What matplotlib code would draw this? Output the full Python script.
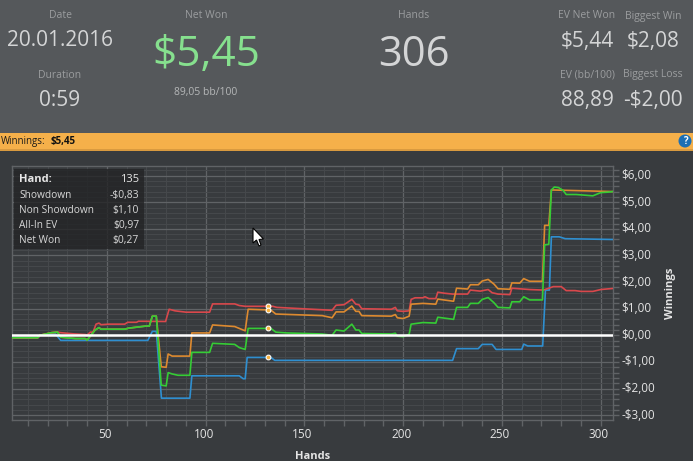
import matplotlib
matplotlib.use('Agg')
import matplotlib.pyplot as plt
from matplotlib.patches import Rectangle, Circle, Polygon
from matplotlib.ticker import MultipleLocator, FuncFormatter
from matplotlib.transforms import ScaledTranslation

# ==========================================
# DATA
# ==========================================
blue_x = [2, 15, 16, 24, 26.6, 70.7, 73, 75, 77.6, 92, 93, 117, 119, 120, 121, 133, 135, 225, 227,
          238, 240, 245, 247, 260, 261, 263, 270.6, 272, 274, 275, 279, 282, 306]
blue_y = [-0.09, -0.09, 0, 0.05, -0.19, -0.19, 0.15, 0.15, -2.36, -2.36, -1.52, -1.52, -1.63, -1.63, -0.83,
          -0.83, -0.94, -0.94, -0.5, -0.5, -0.34, -0.34, -0.53, -0.53, -0.33, -0.4, -0.4, 1.7, 1.7,
          3.7, 3.7, 3.63, 3.6]

green_x = [2, 15, 16, 22, 25, 26.6, 34, 39, 40, 41.6, 44, 46, 47, 59, 61, 70, 71.5, 73, 75, 77.5, 80, 81, 83, 86, 92,
           93, 102, 103.5, 114.7, 117, 120, 121.5, 133, 135.5, 141, 159, 164, 166, 170, 174, 176, 177.6,
           179, 194, 196, 197, 200, 203, 204, 210, 216.5, 217.5, 225.5, 227, 232.6, 234, 238, 240, 243,
           246, 248, 254, 255, 259, 261, 264, 270.5, 271.6, 273.7, 275, 276.5, 278.6, 281, 282.5, 287.5,
           296, 300, 304, 306]
green_y = [-0.09, -0.09, 0, 0.1, 0.12, -0.07, -0.12, -0.12, -0.18, -0.03, 0.2, 0.29, 0.23, 0.23, 0.27, 0.35, 0.35, 0.72,
           0.72, -1.87, -1.9, -1.4, -1.45, -1.5, -1.5, -0.64, -0.64, -0.3, -0.34, -0.46, -0.53, 0.26, 0.26,
           0.12, 0.09, 0.05, 0, 0.2, 0.16, 0.42, 0.2, 0.2, 0.07, 0.05, 0.08, -0.03, -0.05, 0.04, 0.42,
           0.48, 0.46, 0.68, 0.6, 1.05, 1.05, 1.2, 1.2, 1.35, 1.42, 1.22, 1.05, 1.03, 1.26, 1.26, 1.45,
           1.33, 1.33, 3.4, 3.42, 5.46, 5.57, 5.55, 5.44, 5.29, 5.29, 5.24, 5.36, 5.38, 5.4]

orange_x = [2, 15, 16, 22, 25, 26.6, 34, 39, 40, 41.6, 44, 46, 47, 59, 61, 70, 71.5, 73, 75, 77.5, 80, 81, 83, 92,
            93, 102, 103.5, 114.7, 117, 120, 121.5, 133, 135.5, 159, 164, 166, 170, 174, 176, 177.6,
            179, 194, 196, 197, 200, 203, 204, 210, 216.5, 217.5, 225.5, 227, 232.6, 234, 238, 240, 243,
            246, 248, 254, 255, 259, 261, 264, 270.5, 271.6, 273.7, 275, 306]
orange_y = [-0.09, -0.09, 0, 0.1, 0.12, -0.07, -0.12, -0.12, -0.18, -0.03, 0.2, 0.29, 0.23, 0.23, 0.27, 0.35, 0.35, 0.72,
            0.72, -1.18, -1.2, -0.7, -0.78, -0.78, 0.09, 0.09, 0.39, 0.33, 0.26, 0.17, 0.98, 0.95,
            0.8, 0.74, 0.66, 0.88, 0.88, 1.1, 0.9, 0.9, 0.74, 0.72, 0.78, 0.66, 0.63, 0.72, 1.17,
            1.2, 1.17, 1.36, 1.28, 1.77, 1.74, 1.9, 1.9, 2.04, 2.1, 1.92, 1.75, 1.73, 1.97, 1.96, 2.13,
            2.03, 2.03, 4.13, 4.13, 5.46, 5.4]

red_x = [2, 15, 16, 22, 25, 26.6, 34, 39, 40, 41.6, 43, 44.5, 46, 47, 51, 59, 60.5, 65, 66, 79.7, 81.5, 84.5, 90, 102,
         103.5, 114.7, 117, 120, 134, 136, 159, 164, 166, 170, 174, 176, 177.6, 179, 194, 196, 197, 200,
         203, 204, 206, 210, 211, 213, 216.5, 217.5, 221, 225, 232.6, 234, 239, 243, 245, 248, 254, 255,
         264, 271, 276, 280, 282.5, 287, 290, 296, 300, 306]
red_y = [-0.09, -0.09, 0, 0.1, 0.12, 0.1, 0.05, 0.03, 0.01, 0.12, 0.12, 0.42, 0.46, 0.4, 0.42, 0.42, 0.49, 0.49, 0.53,
         0.52, 0.98, 0.92, 0.87, 0.87, 1.18, 1.18, 1.12, 1.09, 1.09, 1.05, 0.96, 0.94, 1.13, 1.15, 1.35,
         1.17, 1.15, 1.0, 0.98, 1.05, 0.92, 0.9, 0.92, 1.35, 1.41, 1.41, 1.45, 1.38, 1.38, 1.62, 1.58,
         1.55, 1.55, 1.7, 1.66, 1.72, 1.6, 1.55, 1.53, 1.77, 1.72, 1.7, 1.83, 1.83, 1.68, 1.68, 1.65,
         1.65, 1.72, 1.76]

hover_hand = 131.5
hover_vals = [-0.83, 1.10, 0.97, 0.27]

tooltip_names = ['Showdown', 'Non Showdown', 'All-In EV', 'Net Won']
tooltip_vals = ['-$0,83', '$1,10', '$0,97', '$0,27']

# ==========================================
# COLORS
# ==========================================
BG = '#383b3e'
HEADER = '#55585b'
BAR = '#f5b04a'
LABEL = '#9b9d9f'
VALUE = '#d4d5d6'
PX_W, PX_H = 693, 461

plt.rcParams['font.family'] = ['Open Sans', 'DejaVu Sans']
fig = plt.figure(figsize=(PX_W / 100, PX_H / 100), dpi=100, facecolor=BG)

# fondo en coordenadas de pixel
bg = fig.add_axes([0, 0, 1, 1], zorder=0)
bg.set_xlim(0, PX_W)
bg.set_ylim(PX_H, 0)
bg.axis('off')
bg.add_patch(Rectangle((0, 0), PX_W, 133, color=HEADER, lw=0))
bg.add_patch(Rectangle((0, 133), PX_W, 18, color=BAR, lw=0))
bg.add_patch(Rectangle((0, 149), PX_W, 2, color='#d99a3f', lw=0))
bg.add_patch(Circle((685, 141), 6.5, color='#1c6fb5', lw=0))
bg.text(685, 141.5, '?', color='white', fontsize=7, fontweight='bold', ha='center', va='center')


def stat(x, y, text, size, color):
    bg.text(x, y, text, fontsize=size, color=color, ha='center', va='center')


stat(60, 16, 'Date', 7.5, LABEL)
stat(60, 41, '20.01.2016', 15, VALUE)
stat(60, 75, 'Duration', 7.5, LABEL)
stat(60, 100, '0:59', 15, VALUE)
stat(206, 16, 'Net Won', 7.5, LABEL)
stat(206, 55, '$5,45', 30.5, '#86e08e')
stat(206, 92, '89,05 bb/100', 7.5, '#b5b7b8')
stat(414, 16, 'Hands', 7.5, LABEL)
stat(414, 55, '306', 30, VALUE)
stat(587, 16, 'EV Net Won', 7.5, LABEL)
stat(587, 41, '$5,44', 15, VALUE)
stat(587, 75, 'EV (bb/100)', 7.5, LABEL)
stat(587, 100, '88,89', 15, VALUE)
stat(653, 16, 'Biggest Win', 7.5, LABEL)
stat(653, 41, '$2,08', 15, VALUE)
stat(653, 75, 'Biggest Loss', 7.5, LABEL)
stat(653, 100, '-$2,00', 15, VALUE)

bg.text(1, 141.5, 'Winnings:', fontsize=7, color='#1a1a1a', va='center')
bg.text(51, 141.5, '$5,45', fontsize=7, color='#111111', fontweight='bold', va='center')

# ==========================================
# GRAFICA
# ==========================================
left, right, top, bottom = 11.5, 613, 166, 420
ax = fig.add_axes([left / PX_W, 1 - bottom / PX_H, (right - left) / PX_W, (bottom - top) / PX_H], zorder=1)
ax.set_facecolor('none')
ax.set_xlim(1.7, 306.2)
ax.set_ylim(-3.18, 6.36)

ax.xaxis.set_major_locator(MultipleLocator(50))
ax.xaxis.set_minor_locator(MultipleLocator(10))
ax.yaxis.set_major_locator(MultipleLocator(1))
ax.yaxis.set_minor_locator(MultipleLocator(0.2))
ax.grid(which='major', color='#606366', lw=0.9)
ax.grid(which='minor', color='#46494c', lw=0.7)
ax.set_axisbelow(True)
for s in ax.spines.values():
    s.set_color('#606366')
    s.set_linewidth(1)


def money(v, pos):
    txt = f'${abs(v):.2f}'.replace('.', ',')
    return '-' + txt if v < -0.001 else txt


ax.yaxis.set_major_formatter(FuncFormatter(money))
ax.yaxis.tick_right()
ax.tick_params(which='both', colors='#606366', length=4, width=1)
ax.tick_params(axis='both', which='major', labelsize=8.5, labelcolor='#e4e4e4')
ax.tick_params(axis='x', which='major', pad=2)
ax.tick_params(axis='y', which='major', pad=2)

# las etiquetas van un poco desplazadas respecto a su marca
shift_x = ScaledTranslation(-2 / 100, 0, fig.dpi_scale_trans)
for lbl in ax.get_xticklabels():
    lbl.set_transform(lbl.get_transform() + shift_x)
shift_y = ScaledTranslation(0, 1.5 / 100, fig.dpi_scale_trans)
for lbl in ax.get_yticklabels():
    lbl.set_transform(lbl.get_transform() + shift_y)

ax.plot(blue_x, blue_y, color='#2f8fd0', lw=1.2, zorder=3)
ax.plot(red_x, red_y, color='#d9484c', lw=1.2, zorder=3)
ax.plot(orange_x, orange_y, color='#dd8a30', lw=1.2, zorder=4)
ax.plot(green_x, green_y, color='#35cc35', lw=1.2, zorder=5)
ax.axhline(0, color='white', lw=1.8, zorder=6)

# puntos del cursor
ax.plot([hover_hand] * len(hover_vals), hover_vals, ls='none', marker='o', ms=3.4,
        mfc='#f8b13c', mec='white', mew=0.8, zorder=7)

bg.text(313, 456, 'Hands', fontsize=8, color='#e4e4e4', fontweight='bold', ha='center', va='center')
bg.text(670, 293, 'Winnings', fontsize=8, color='#e4e4e4', fontweight='bold', rotation=90,
        ha='center', va='center')

# ==========================================
# TOOLTIP Y CURSOR
# ==========================================
over = fig.add_axes([0, 0, 1, 1], zorder=2)
over.set_xlim(0, PX_W)
over.set_ylim(PX_H, 0)
over.axis('off')
over.add_patch(Rectangle((14, 169), 130, 80, color='#232426', alpha=0.8, lw=0))
over.text(19, 179, 'Hand:', fontsize=8, color='#e6e6e6', fontweight='bold', va='center')
over.text(139, 179, '135', fontsize=8, color='#e6e6e6', ha='right', va='center')
for i, (name, val) in enumerate(zip(tooltip_names, tooltip_vals)):
    yy = 195 + i * 15
    over.text(19, yy, name, fontsize=7.3, color='#d8d8d8', va='center')
    over.text(139, yy, val, fontsize=7.5, color='#d8d8d8', ha='right', va='center')

over.add_patch(Polygon([(253, 228), (253, 243), (256.5, 240), (259, 246), (261, 245), (259, 239.5), (263.5, 239)],
                       closed=True, fc='white', ec='black', lw=0.8, zorder=10))

fig.savefig('out.png', dpi=100, facecolor=BG)
